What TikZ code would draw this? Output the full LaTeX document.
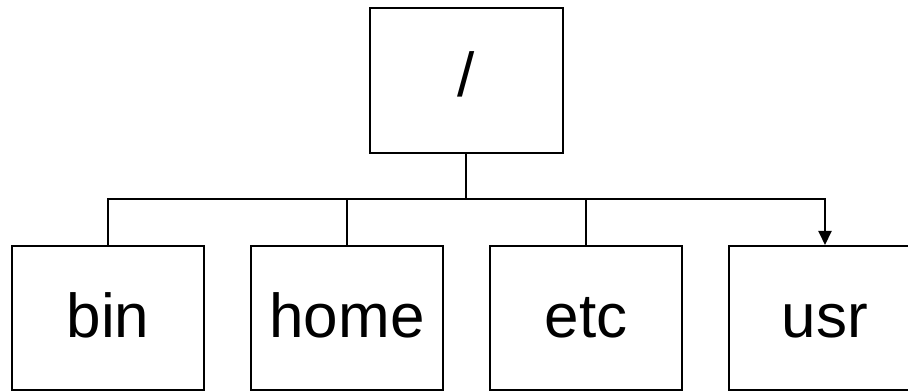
\documentclass[tikz,border=0pt]{standalone}
\usepackage{fontspec}
\setmainfont{Liberation Sans}
\usetikzlibrary{arrows.meta}
\begin{document}
\begin{tikzpicture}[x=1pt,y=1pt,line width=2pt,
  dirbox/.style={draw, rectangle, inner sep=0pt, minimum width=192pt, minimum height=144pt, text height=40pt, text depth=0pt, font=\fontsize{62}{70}\selectfont}]
\useasboundingbox (0,0) rectangle (908,391);
\node[dirbox, minimum width=193pt, minimum height=145pt, text height=33pt] (root) at (466,310.5) {/};
\node[dirbox] (bin) at (108,73) {bin};
\node[dirbox] (home) at (347,73) {home};
\node[dirbox] (etc) at (586,73) {etc};
\node[dirbox] (usr) at (825,73) {usr};
\coordinate (bus) at (466,192);

\path[draw,-] (root) -- (bus);
\path[draw,-{Triangle[length=14pt,width=13pt]}] (bin.north) |- (bus) -| (usr.north);
\path[draw,-] (home.north) -- (home.north |- bus);
\path[draw,-] (etc.north) -- (etc.north |- bus);
\end{tikzpicture}
\end{document}
